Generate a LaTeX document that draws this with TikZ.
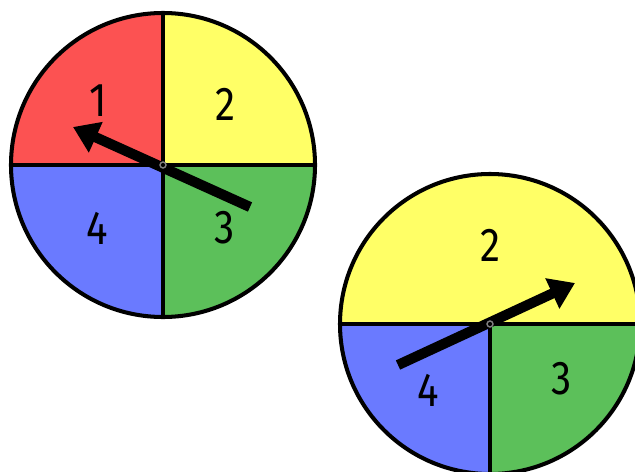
\documentclass[tikz,border=0pt]{standalone}
\usepackage{fontspec}
\setmainfont{Fira Sans}
\usepackage{tikz}
\usetikzlibrary{arrows.meta, calc}
\definecolor{SpinRed}{RGB}{252,82,82}
\definecolor{SpinYellow}{RGB}{255,255,102}
\definecolor{SpinBlue}{RGB}{106,122,255}
\definecolor{SpinGreen}{RGB}{92,192,90}
\tikzset{
	rim/.style={line width=2.3pt},
	divider/.style={line width=2pt},
	pointer/.style={line width=5.8pt, -{Triangle[length=0.5cm,width=0.64cm]}},
	digit/.style={font=\fontsize{27}{30}\selectfont, xscale=0.85}
}

\begin{document}
\begin{tikzpicture}[x=0.02cm, y=0.02cm]
	\useasboundingbox (0,0) rectangle (635,471);
	\clip (0,0) rectangle (635,471);
	% left spinner
	\coordinate (C1) at (163,306);
	\fill[SpinYellow] (C1) -- ++(0:152) arc (0:90:152) -- cycle;
	\fill[SpinRed] (C1) -- ++(90:152) arc (90:180:152) -- cycle;
	\fill[SpinBlue] (C1) -- ++(180:152) arc (180:270:152) -- cycle;
	\fill[SpinGreen] (C1) -- ++(270:152) arc (270:360:152) -- cycle;
	\draw[divider] ($(C1)+(-152,0)$) -- ($(C1)+(152,0)$);
	\draw[divider] ($(C1)+(0,-152)$) -- ($(C1)+(0,152)$);
	\draw[rim] (C1) circle (152);
	\node[digit] (one1) at (98,370) {1};
	\node[digit] (two1) at (225,367) {2};
	\node[digit] (four1) at (97,243) {4};
	\node[digit] (three1) at (225,243) {3};
	\coordinate (T1) at (250,264);
	\coordinate (H1) at (73,344);
	\draw[pointer] (T1) -- (H1);
	\draw[gray, line width=0.8pt] (C1) circle (3);
	% right spinner
	\coordinate (C2) at (490,147);
	\fill[SpinYellow] (C2) -- ++(0:150) arc (0:180:150) -- cycle;
	\fill[SpinBlue] (C2) -- ++(180:150) arc (180:270:150) -- cycle;
	\fill[SpinGreen] (C2) -- ++(270:150) arc (270:360:150) -- cycle;
	\draw[divider] ($(C2)+(-150,0)$) -- ($(C2)+(150,0)$);
	\draw[divider] (C2) -- ($(C2)+(0,-150)$);
	\draw[rim] (C2) circle (150);
	\node[digit] (two2) at (490,226) {2};
	\node[digit] (four2) at (428,81) {4};
	\node[digit] (three2) at (562,92) {3};
	\coordinate (T2) at (398,106);
	\coordinate (H2) at (575,188);
	\draw[pointer] (T2) -- (H2);
	\draw[gray, line width=0.8pt] (C2) circle (3);
\end{tikzpicture}
\end{document}
